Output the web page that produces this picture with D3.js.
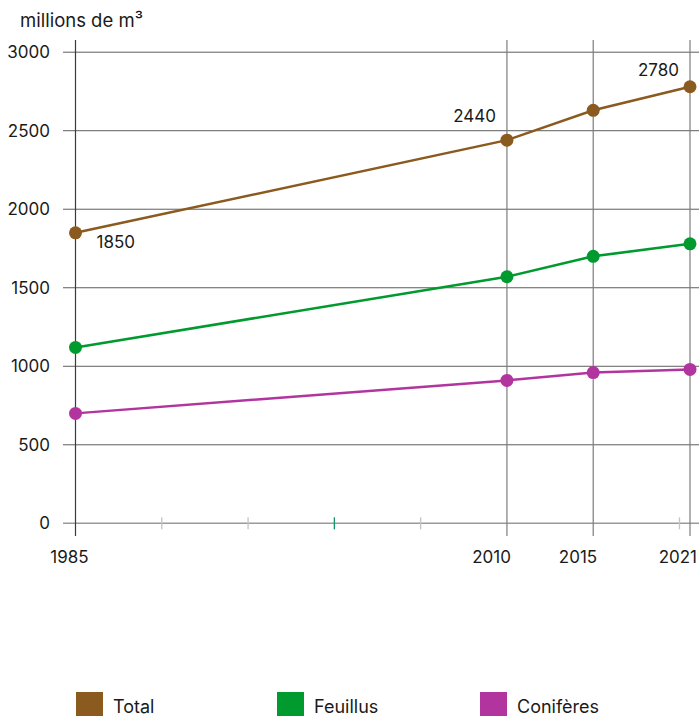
<!DOCTYPE html>
<html>
<head>
<meta charset="utf-8">
<script src="https://cdn.jsdelivr.net/npm/d3@7/dist/d3.min.js"></script>
<style>
  html, body { margin: 0; padding: 0; background: #fff; }
  svg { display: block; font-family: Inter, "Noto Sans", sans-serif; }
</style>
</head>
<body>
<svg id="chart" width="699" height="716"></svg>
<script>
// Volume de bois sur pied, millions de m³
const years = [1985, 2010, 2015, 2021];
const total = [1850, 2440, 2630, 2780];
const feuillus = [1120, 1570, 1700, 1780];
const coniferes = [700, 910, 960, 980];
const yTicks = [0, 500, 1000, 1500, 2000, 2500, 3000];
const minorYears = [1990, 1995, 2000, 2005, 2020];
const labelledTotal = [1850, 2440, 2780];

const seriesNames = ["Total", "Feuillus", "Conifères"];
const seriesColors = ["#8a5a1e", "#009a2e", "#b2359f"];
const seriesValues = [total, feuillus, coniferes];

const svg = d3.select("#chart");

const x = d3.scaleLinear().domain([1985, 2020, 2021]).range([75.5, 679.5, 690]);
const y = d3.scaleLinear().domain([0, 3000]).range([523.3, 52.2]);

const leftEdge = 63, rightEdge = 699;
const ink = "#1a1a1a";

// unit title
svg.append("text")
  .attr("x", 20).attr("y", 27)
  .attr("font-size", 18.5).attr("fill", ink)
  .text("millions de m³");

// horizontal grid
svg.append("g").selectAll("line")
  .data(yTicks.filter(d => d > 0))
  .join("line")
  .attr("x1", leftEdge).attr("x2", rightEdge)
  .attr("y1", d => y(d)).attr("y2", d => y(d))
  .attr("stroke", "#5e5e5e").attr("stroke-width", 1);

// y tick labels
svg.append("g").selectAll("text")
  .data(yTicks)
  .join("text")
  .attr("x", 50).attr("y", d => y(d) + 6)
  .attr("text-anchor", "end")
  .attr("font-size", 17).attr("fill", ink)
  .text(d => d);

// baseline axis
svg.append("line")
  .attr("x1", leftEdge).attr("x2", rightEdge)
  .attr("y1", y(0)).attr("y2", y(0))
  .attr("stroke", "#9a9a9a").attr("stroke-width", 1.5);

// minor year ticks
svg.append("g").selectAll("line")
  .data(minorYears)
  .join("line")
  .attr("x1", d => x(d)).attr("x2", d => x(d))
  .attr("y1", y(0) - 6).attr("y2", y(0) + 6)
  .attr("stroke", d => d === 2000 ? "#12946a" : "#c4c4c4")
  .attr("stroke-width", 1.3);

// vertical grid at observed years
svg.append("g").selectAll("line")
  .data(years)
  .join("line")
  .attr("x1", d => x(d)).attr("x2", d => x(d))
  .attr("y1", 40).attr("y2", 536)
  .attr("stroke", (d, i) => i === 0 ? "#3a3a3a" : "#7c7c7c")
  .attr("stroke-width", 1.2);

// year labels
svg.append("g").selectAll("text")
  .data(years)
  .join("text")
  .attr("x", (d, i) => i === 0 ? x(d) - 6 : (i === years.length - 1 ? 697 : x(d) + 4))
  .attr("y", 563)
  .attr("text-anchor", (d, i) => i === 0 ? "middle" : "end")
  .attr("font-size", 17).attr("fill", ink)
  .text(d => d);

// series lines and points
const line = d3.line().x(d => x(d[0])).y(d => y(d[1]));
seriesValues.forEach((vals, s) => {
  const pts = years.map((yr, i) => [yr, vals[i]]);
  svg.append("path")
    .datum(pts)
    .attr("d", line)
    .attr("fill", "none")
    .attr("stroke", seriesColors[s])
    .attr("stroke-width", 2.5);
  svg.append("g").selectAll("circle")
    .data(pts)
    .join("circle")
    .attr("cx", d => x(d[0])).attr("cy", d => y(d[1]))
    .attr("r", 6.5)
    .attr("fill", seriesColors[s]);
});

// value labels on the total series
years.forEach((yr, i) => {
  const v = total[i];
  if (!labelledTotal.includes(v)) return;
  const first = i === 0;
  const last = i === years.length - 1;
  svg.append("text")
    .attr("x", first ? x(yr) + 21 : x(yr) - 11)
    .attr("y", first ? y(v) + 15 : y(v) - (last ? 11 : 18))
    .attr("text-anchor", first ? "start" : "end")
    .attr("font-size", 17).attr("fill", ink)
    .text(v);
});

// legend
const legendX = [76, 277, 480];
const lg = svg.append("g");
seriesNames.forEach((name, i) => {
  lg.append("rect")
    .attr("x", legendX[i]).attr("y", 692)
    .attr("width", 27).attr("height", 26)
    .attr("fill", seriesColors[i]);
  lg.append("text")
    .attr("x", legendX[i] + 37).attr("y", 713)
    .attr("font-size", 18).attr("fill", ink)
    .text(name);
});
</script>
</body>
</html>
